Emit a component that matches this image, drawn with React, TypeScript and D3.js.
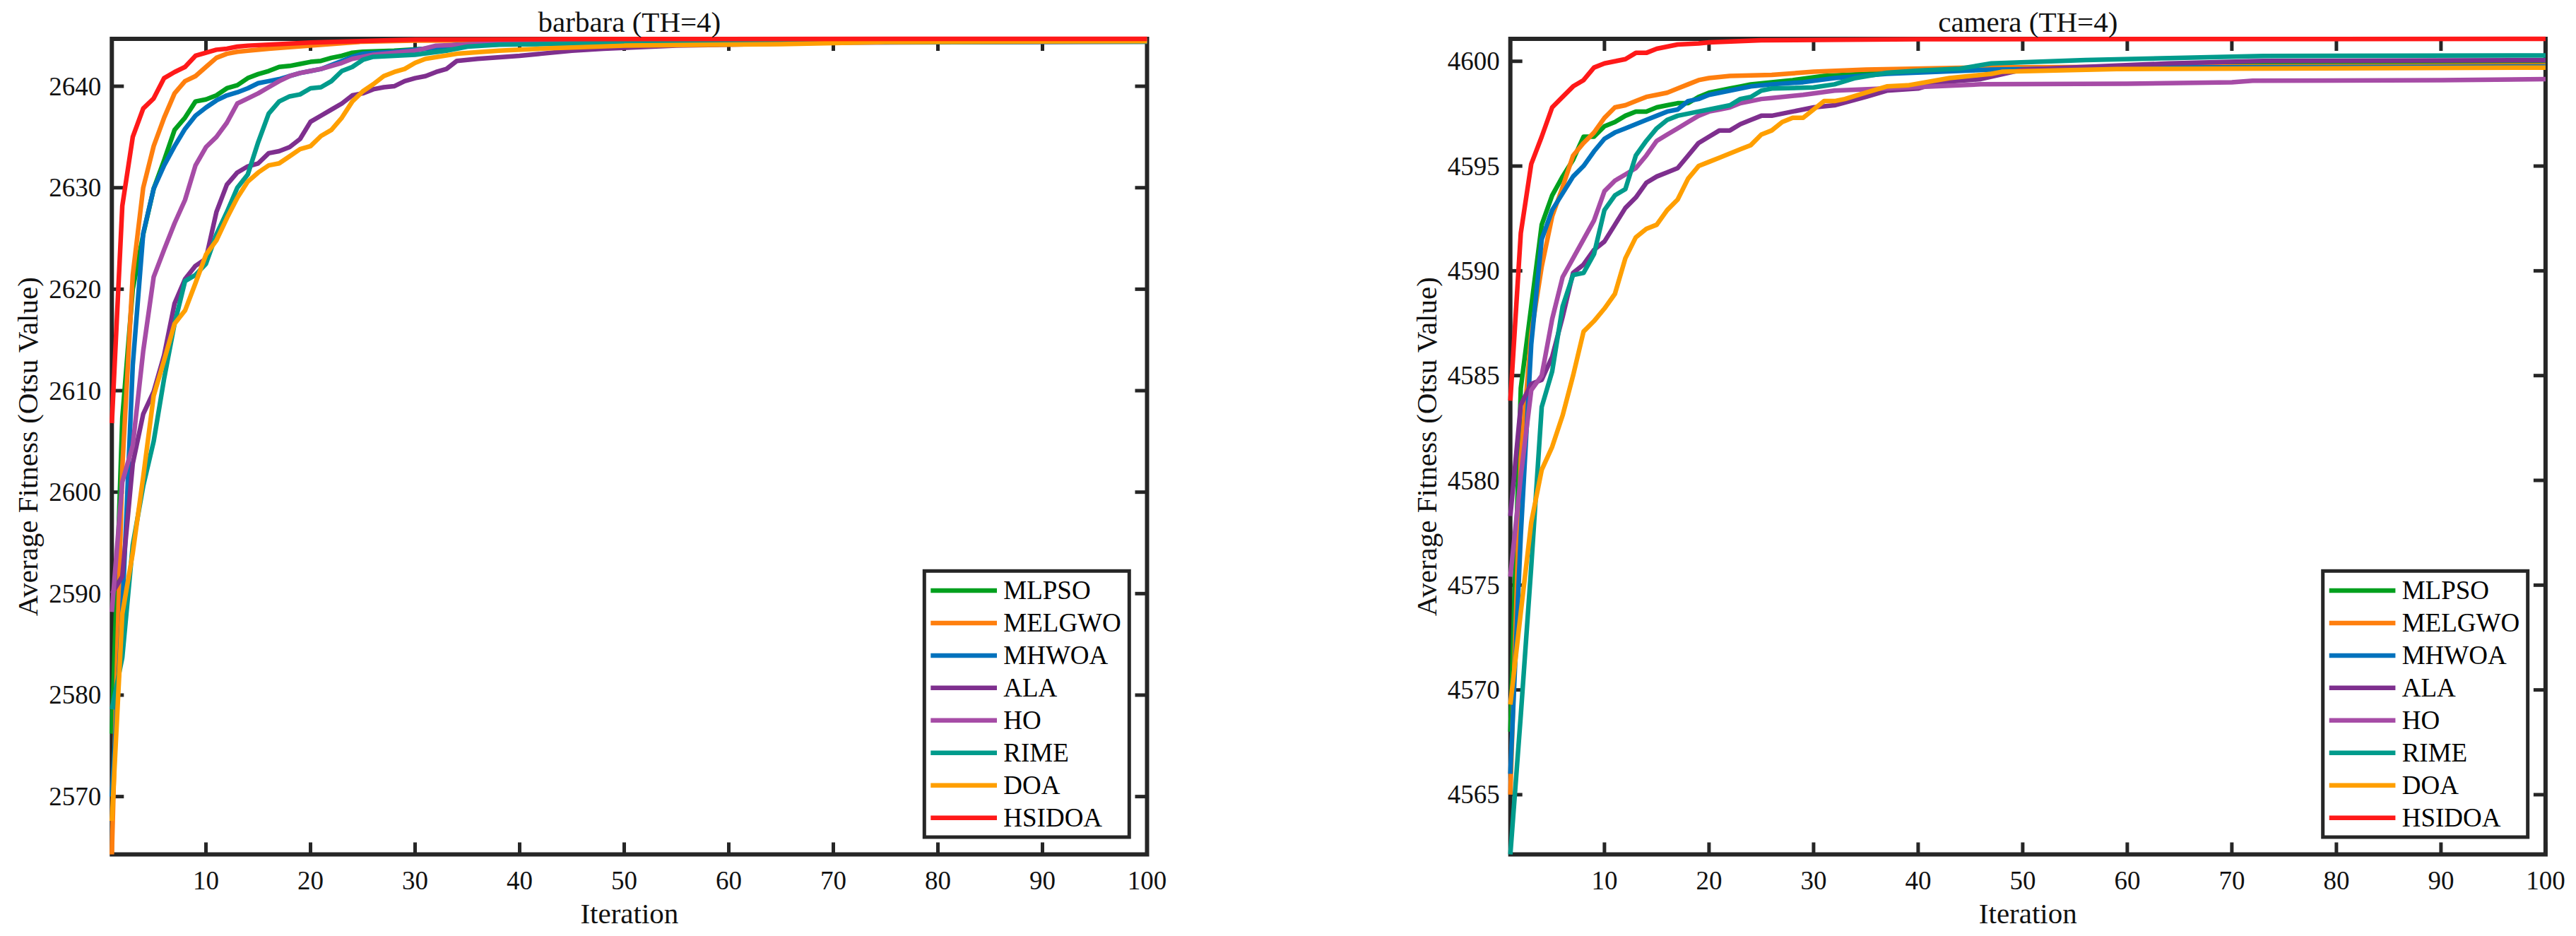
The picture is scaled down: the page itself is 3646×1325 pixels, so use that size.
import React from 'react';
import * as d3 from 'd3';

type Pt = [number, number];

const algorithms = ['MLPSO', 'MELGWO', 'MHWOA', 'ALA', 'HO', 'RIME', 'DOA', 'HSIDOA'];
const algColors = ['#00A01E', '#FF7F0E', '#0072BD', '#7E2F8E', '#A64CA6', '#009B8C', '#FF9F00', '#FF1919'];
const iterationTicks = [10, 20, 30, 40, 50, 60, 70, 80, 90, 100];
const barbaraTicks = [2570, 2580, 2590, 2600, 2610, 2620, 2630, 2640];
const cameraTicks = [4565, 4570, 4575, 4580, 4585, 4590, 4595, 4600];
const panelTitles = ['barbara (TH=4)', 'camera (TH=4)'];

// ---- barbara (TH=4): [iteration, average fitness] ----
const barbaraMLPSO: Pt[] = [[1, 2576.2], [2, 2607.3], [3, 2620.0], [4, 2625.4], [5, 2629.9], [6, 2632.7], [7, 2635.7], [8, 2636.9], [9, 2638.5], [10, 2638.7], [11, 2639.1], [12, 2639.8], [13, 2640.1], [14, 2640.8], [15, 2641.2], [16, 2641.5], [17, 2641.9], [18, 2642.0], [19, 2642.2], [20, 2642.4], [21, 2642.5], [22, 2642.8], [23, 2643.0], [24, 2643.3], [25, 2643.4], [28, 2643.5], [31, 2643.7], [35, 2644.0], [40, 2644.2], [50, 2644.35], [70, 2644.45], [100, 2644.5]];
const barbaraMELGWO: Pt[] = [[1, 2564.3], [2, 2602.4], [3, 2621.4], [4, 2630.0], [5, 2634.1], [6, 2636.9], [7, 2639.3], [8, 2640.5], [9, 2641.0], [10, 2641.9], [11, 2642.8], [12, 2643.2], [13, 2643.4], [14, 2643.5], [16, 2643.7], [20, 2644.0], [25, 2644.4], [30, 2644.5], [50, 2644.55], [100, 2644.6]];
const barbaraMHWOA: Pt[] = [[1, 2570.0], [2, 2588.2], [3, 2612.5], [4, 2625.5], [5, 2629.9], [6, 2632.2], [7, 2634.1], [8, 2635.8], [9, 2637.1], [10, 2637.9], [11, 2638.6], [12, 2639.1], [13, 2639.4], [14, 2639.8], [15, 2640.3], [16, 2640.5], [17, 2640.7], [18, 2641.0], [19, 2641.3], [20, 2641.5], [21, 2641.7], [22, 2642.1], [23, 2642.5], [24, 2642.9], [25, 2643.2], [28, 2643.4], [31, 2643.7], [34, 2644.1], [40, 2644.2], [50, 2644.35], [70, 2644.45], [100, 2644.5]];
const barbaraALA: Pt[] = [[1, 2590.0], [2, 2591.7], [3, 2602.8], [4, 2607.7], [5, 2609.9], [6, 2613.5], [7, 2618.6], [8, 2621.0], [9, 2622.3], [10, 2623.0], [11, 2627.6], [12, 2630.3], [13, 2631.5], [14, 2632.1], [15, 2632.4], [16, 2633.4], [17, 2633.6], [18, 2634.0], [19, 2634.8], [20, 2636.5], [21, 2637.1], [22, 2637.7], [23, 2638.3], [24, 2639.1], [25, 2639.3], [26, 2639.7], [27, 2639.9], [28, 2640.0], [29, 2640.5], [30, 2640.8], [31, 2641.0], [32, 2641.4], [33, 2641.7], [34, 2642.5], [36, 2642.7], [40, 2643.0], [42, 2643.2], [45, 2643.5], [48, 2643.7], [55, 2644.0], [70, 2644.3], [100, 2644.4]];
const barbaraHO: Pt[] = [[1, 2588.2], [2, 2601.0], [3, 2604.6], [4, 2613.9], [5, 2621.2], [6, 2623.9], [7, 2626.5], [8, 2628.8], [9, 2632.2], [10, 2634.0], [11, 2635.0], [12, 2636.4], [13, 2638.3], [14, 2638.8], [15, 2639.3], [16, 2639.9], [17, 2640.5], [18, 2641.0], [19, 2641.3], [20, 2641.5], [21, 2641.7], [22, 2642.0], [23, 2642.3], [24, 2642.7], [25, 2642.9], [26, 2643.1], [28, 2643.3], [30, 2643.5], [32, 2644.0], [37, 2644.2], [50, 2644.35], [100, 2644.45]];
const barbaraRIME: Pt[] = [[1, 2578.6], [2, 2583.7], [3, 2594.8], [4, 2600.6], [5, 2605.0], [6, 2611.2], [7, 2616.6], [8, 2620.8], [9, 2621.4], [10, 2622.5], [11, 2625.4], [12, 2627.6], [13, 2630.0], [14, 2631.3], [15, 2634.5], [16, 2637.3], [17, 2638.5], [18, 2639.0], [19, 2639.2], [20, 2639.8], [21, 2639.9], [22, 2640.5], [23, 2641.5], [24, 2641.9], [25, 2642.6], [26, 2642.9], [30, 2643.1], [33, 2643.5], [35, 2643.9], [38, 2644.1], [45, 2644.2], [60, 2644.3], [100, 2644.4]];
const barbaraDOA: Pt[] = [[1, 2567.6], [2, 2588.0], [3, 2594.0], [4, 2601.5], [5, 2609.5], [6, 2613.0], [7, 2616.6], [8, 2617.9], [9, 2620.6], [10, 2623.4], [11, 2624.8], [12, 2627.0], [13, 2629.0], [14, 2630.6], [15, 2631.5], [16, 2632.2], [17, 2632.4], [18, 2633.1], [19, 2633.8], [20, 2634.1], [21, 2635.1], [22, 2635.7], [23, 2636.9], [24, 2638.5], [25, 2639.5], [26, 2640.2], [27, 2641.0], [28, 2641.4], [29, 2641.7], [30, 2642.3], [31, 2642.7], [34, 2643.2], [38, 2643.5], [43, 2643.75], [50, 2644.0], [65, 2644.15], [75, 2644.35], [100, 2644.45]];
const barbaraHSIDOA: Pt[] = [[1, 2606.8], [2, 2628.2], [3, 2635.0], [4, 2637.8], [5, 2638.8], [6, 2640.8], [7, 2641.4], [8, 2641.9], [9, 2643.0], [10, 2643.3], [11, 2643.6], [12, 2643.7], [13, 2643.9], [14, 2644.0], [20, 2644.3], [30, 2644.6], [45, 2644.65], [100, 2644.67]];

// ---- camera (TH=4) ----
const cameraMLPSO: Pt[] = [[1, 4568.0], [2, 4584.4], [3, 4588.3], [4, 4592.2], [5, 4593.6], [6, 4594.5], [7, 4595.3], [8, 4596.4], [9, 4596.4], [10, 4596.9], [11, 4597.1], [12, 4597.4], [13, 4597.6], [14, 4597.6], [15, 4597.8], [16, 4597.9], [17, 4598.0], [18, 4598.0], [19, 4598.3], [20, 4598.5], [21, 4598.6], [22, 4598.7], [23, 4598.8], [24, 4598.9], [26, 4599.0], [28, 4599.1], [31, 4599.3], [35, 4599.4], [45, 4599.6], [60, 4599.75], [80, 4599.85], [100, 4599.9]];
const cameraMELGWO: Pt[] = [[1, 4565.0], [2, 4581.0], [3, 4587.0], [4, 4590.2], [5, 4592.6], [6, 4594.0], [7, 4595.5], [8, 4596.1], [9, 4596.6], [10, 4597.3], [11, 4597.8], [12, 4597.9], [13, 4598.1], [14, 4598.3], [15, 4598.4], [16, 4598.5], [17, 4598.7], [18, 4598.9], [19, 4599.1], [20, 4599.2], [22, 4599.3], [26, 4599.35], [30, 4599.5], [35, 4599.6], [45, 4599.7], [70, 4599.75], [100, 4599.8]];
const cameraMHWOA: Pt[] = [[1, 4566.0], [2, 4577.4], [3, 4586.5], [4, 4591.5], [5, 4592.9], [6, 4593.7], [7, 4594.5], [8, 4595.0], [9, 4595.7], [10, 4596.3], [11, 4596.6], [12, 4596.8], [13, 4597.0], [14, 4597.2], [15, 4597.4], [16, 4597.6], [17, 4597.7], [18, 4598.1], [19, 4598.2], [20, 4598.4], [21, 4598.5], [22, 4598.6], [23, 4598.7], [24, 4598.8], [26, 4598.9], [29, 4599.0], [32, 4599.2], [37, 4599.4], [47, 4599.6], [60, 4599.7], [100, 4599.75]];
const cameraALA: Pt[] = [[1, 4578.3], [2, 4583.6], [3, 4584.6], [4, 4584.8], [5, 4585.9], [6, 4587.8], [7, 4589.9], [8, 4590.3], [9, 4591.0], [10, 4591.4], [11, 4592.2], [12, 4593.0], [13, 4593.5], [14, 4594.2], [15, 4594.5], [16, 4594.7], [17, 4594.9], [18, 4595.5], [19, 4596.1], [20, 4596.4], [21, 4596.7], [22, 4596.7], [23, 4597.0], [24, 4597.2], [25, 4597.4], [26, 4597.4], [27, 4597.5], [28, 4597.6], [29, 4597.7], [30, 4597.8], [32, 4597.9], [35, 4598.3], [37, 4598.6], [40, 4598.7], [42, 4599.0], [46, 4599.15], [50, 4599.6], [64, 4599.9], [73, 4600.02], [100, 4600.05]];
const cameraHO: Pt[] = [[1, 4575.4], [2, 4580.2], [3, 4584.3], [4, 4585.0], [5, 4587.7], [6, 4589.7], [7, 4590.6], [8, 4591.5], [9, 4592.4], [10, 4593.8], [11, 4594.3], [12, 4594.6], [13, 4594.9], [14, 4595.5], [15, 4596.2], [16, 4596.5], [17, 4596.8], [18, 4597.1], [19, 4597.4], [20, 4597.6], [21, 4597.7], [22, 4597.8], [23, 4598.0], [24, 4598.1], [25, 4598.2], [26, 4598.25], [29, 4598.4], [32, 4598.6], [46, 4598.9], [60, 4598.93], [70, 4599.0], [72, 4599.07], [90, 4599.1], [100, 4599.15]];
const cameraRIME: Pt[] = [[1, 4562.15], [2, 4568.8], [3, 4575.9], [4, 4583.5], [5, 4585.2], [6, 4588.3], [7, 4589.8], [8, 4589.9], [9, 4590.8], [10, 4592.9], [11, 4593.6], [12, 4593.9], [13, 4595.5], [14, 4596.2], [15, 4596.8], [16, 4597.2], [17, 4597.4], [18, 4597.5], [19, 4597.6], [20, 4597.7], [21, 4597.8], [22, 4597.9], [23, 4598.2], [24, 4598.3], [25, 4598.6], [26, 4598.7], [30, 4598.75], [32, 4598.9], [34, 4599.2], [37, 4599.45], [40, 4599.55], [44, 4599.65], [47, 4599.9], [56, 4600.06], [73, 4600.25], [100, 4600.28]];
const cameraDOA: Pt[] = [[1, 4569.3], [2, 4573.7], [3, 4578.0], [4, 4580.5], [5, 4581.6], [6, 4583.1], [7, 4585.0], [8, 4587.1], [9, 4587.6], [10, 4588.2], [11, 4588.9], [12, 4590.6], [13, 4591.6], [14, 4592.0], [15, 4592.2], [16, 4592.9], [17, 4593.4], [18, 4594.4], [19, 4595.0], [20, 4595.2], [21, 4595.4], [22, 4595.6], [23, 4595.8], [24, 4596.0], [25, 4596.5], [26, 4596.7], [27, 4597.1], [28, 4597.3], [29, 4597.3], [30, 4597.7], [31, 4598.1], [32, 4598.1], [33, 4598.2], [35, 4598.5], [37, 4598.8], [39, 4598.85], [43, 4599.2], [47, 4599.4], [48, 4599.5], [59, 4599.63], [100, 4599.7]];
const cameraHSIDOA: Pt[] = [[1, 4583.8], [2, 4591.8], [3, 4595.1], [4, 4596.4], [5, 4597.8], [6, 4598.3], [7, 4598.8], [8, 4599.1], [9, 4599.7], [10, 4599.9], [11, 4600.0], [12, 4600.1], [13, 4600.4], [14, 4600.4], [15, 4600.6], [16, 4600.7], [17, 4600.8], [19, 4600.85], [20, 4600.9], [25, 4601.0], [40, 4601.05], [100, 4601.07]];

const barbaraSeries = [barbaraMLPSO, barbaraMELGWO, barbaraMHWOA, barbaraALA, barbaraHO, barbaraRIME, barbaraDOA, barbaraHSIDOA];
const cameraSeries = [cameraMLPSO, cameraMELGWO, cameraMHWOA, cameraALA, cameraHO, cameraRIME, cameraDOA, cameraHSIDOA];

const W = 3646;
const H = 1325;
const FONT = "'Liberation Serif', 'Times New Roman', serif";
const AX = '#262626';

type PanelProps = { left: number; title: string; series: Pt[][]; yTicks: number[] };

function Panel({ left, title, series, yTicks }: PanelProps) {
  const plotW = 1465.2;
  const top = 55;
  const bottom = 1209.5;
  const right = left + plotW;
  const x = d3.scaleLinear().domain([1, 100]).range([left, right]);
  const allVals = series.flat().map((d) => d[1]);
  const y = d3.scaleLinear().domain([d3.min(allVals) as number, d3.max(allVals) as number]).range([bottom, top]);
  const line = d3.line<Pt>().x((d) => x(d[0])).y((d) => y(d[1]));
  const tickLen = 17;
  const legL = left + 1150;
  const legR = left + 1440;
  const legT = 808.3;
  const legB = 1185;
  const entry0 = 836;
  const entryStep = 45.95;
  const cx = (left + right) / 2;
  const cy = (top + bottom) / 2;
  return (
    <g>
      <rect x={left} y={top} width={plotW} height={bottom - top} fill="none" stroke={AX} strokeWidth={6} />
      {iterationTicks.map((t) => (
        <g key={'xt' + t}>
          <line x1={x(t)} x2={x(t)} y1={bottom} y2={bottom - tickLen} stroke={AX} strokeWidth={5} />
          <line x1={x(t)} x2={x(t)} y1={top} y2={top + tickLen} stroke={AX} strokeWidth={5} />
          <text x={x(t)} y={1259} textAnchor="middle" fontFamily={FONT} fontSize={37} fill="#111">{t}</text>
        </g>
      ))}
      {yTicks.map((t) => (
        <g key={'yt' + t}>
          <line x1={left} x2={left + tickLen} y1={y(t)} y2={y(t)} stroke={AX} strokeWidth={5} />
          <line x1={right} x2={right - tickLen} y1={y(t)} y2={y(t)} stroke={AX} strokeWidth={5} />
          <text x={left - 15} y={y(t) + 12.5} textAnchor="end" fontFamily={FONT} fontSize={37} fill="#111">{t}</text>
        </g>
      ))}
      {series.map((s, i) => (
        <path key={'s' + i} d={line(s) || ''} fill="none" stroke={algColors[i]} strokeWidth={6.5} strokeLinejoin="round" />
      ))}
      <text x={cx} y={45} textAnchor="middle" fontFamily={FONT} fontSize={41} fill="#111">{title}</text>
      <text x={cx} y={1307} textAnchor="middle" fontFamily={FONT} fontSize={41} fill="#111">Iteration</text>
      <text transform={`translate(${left - 105},${cy}) rotate(-90)`} textAnchor="middle" fontFamily={FONT} fontSize={41} fill="#111">Average Fitness (Otsu Value)</text>
      <rect x={legL} y={legT} width={legR - legL} height={legB - legT} fill="#fff" stroke={AX} strokeWidth={5} />
      {algorithms.map((a, i) => {
        const yy = entry0 + i * entryStep;
        return (
          <g key={'lg' + a}>
            <line x1={left + 1159} x2={left + 1252.7} y1={yy} y2={yy} stroke={algColors[i]} strokeWidth={6.5} />
            <text x={left + 1262} y={yy + 12.3} fontFamily={FONT} fontSize={37} fill="#000">{a}</text>
          </g>
        );
      })}
    </g>
  );
}

export default function App() {
  return (
    <svg width={W} height={H} viewBox={`0 0 ${W} ${H}`} style={{ position: 'absolute', left: 0, top: 0, background: '#fff' }}>
      <rect x={0} y={0} width={W} height={H} fill="#fff" />
      <Panel left={158.3} title={panelTitles[0]} series={barbaraSeries} yTicks={barbaraTicks} />
      <Panel left={2137.7} title={panelTitles[1]} series={cameraSeries} yTicks={cameraTicks} />
    </svg>
  );
}
